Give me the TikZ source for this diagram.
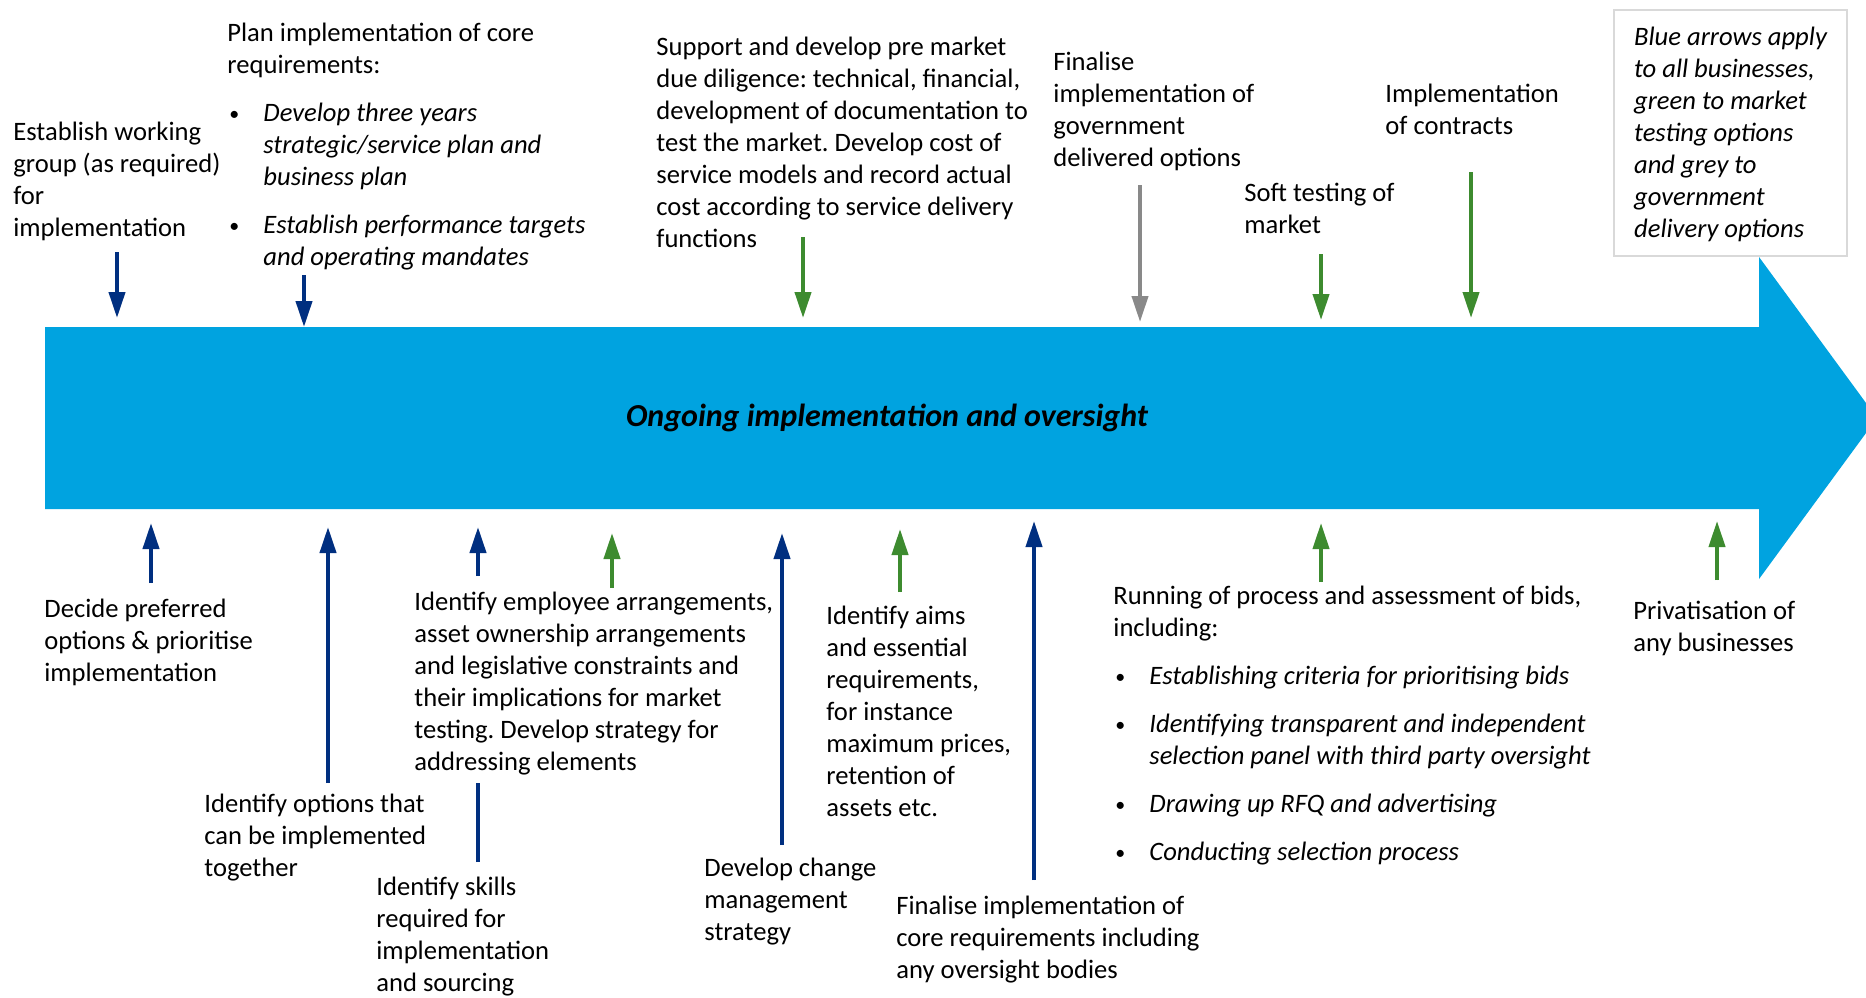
\documentclass[tikz,border=0pt]{standalone}
\usepackage{fontspec}
\usepackage{graphicx}
\setmainfont{Carlito}
\usetikzlibrary{arrows.meta}
\definecolor{barblue}{HTML}{00A3E0}
\definecolor{navy}{HTML}{002F80}
\definecolor{leaf}{HTML}{3D8B2F}
\definecolor{stone}{HTML}{898989}
\definecolor{frame}{HTML}{D9D9D9}
\newcommand{\lstrut}{\rule{0pt}{11pt}}
\newcommand{\bitem}[1]{\makebox[18pt][l]{\hspace{1pt}\raisebox{0.7pt}{\scalebox{0.75}{•}}}\textit{#1}}
\newcommand{\bcont}[1]{\hspace{18pt}\textit{#1}}
\frenchspacing
\begin{document}
\begin{tikzpicture}[x=0.5pt,y=-0.5pt,
  txt/.style={align=left, anchor=north west, inner sep=0pt, font=\fontsize{13.3}{16}\selectfont},
  conn/.style={line width=2pt, -{Triangle[length=13pt,width=8pt]}},
  bluec/.style={conn, draw=navy, fill=navy},
  greenc/.style={conn, draw=leaf, fill=leaf},
  greyc/.style={conn, draw=stone, fill=stone},
  plainblue/.style={line width=2pt, draw=navy}]
\useasboundingbox (0,0) rectangle (1866,997);
\fill[white] (0,0) rectangle (1866,997);

% main arrow
\fill[barblue] (45,327) -- (1759,327) -- (1759,257) -- (1877,418) -- (1759,579) -- (1759,509) -- (45,509) -- cycle;
\node[font=\fontsize{16}{20}\selectfont\bfseries\itshape, anchor=base, inner sep=0pt] (bartxt) at (887,426) {Ongoing implementation and oversight};

% top texts
\node[txt] (est) at (13,118) {\lstrut Establish working\\group (as required)\\for\\implementation};
\node[txt] (plan) at (227,19) {\lstrut Plan implementation of core\\requirements:\\[8pt]
  \bitem{Develop three years}\\\bcont{strategic/service plan and}\\\bcont{business plan}\\[8pt]
  \bitem{Establish performance targets}\\\bcont{and operating mandates}};
\node[txt] (supp) at (656,33) {\lstrut Support and develop pre market\\due diligence: technical, financial,\\development of documentation to\\test the market. Develop cost of\\service models and record actual\\cost according to service delivery\\functions};
\node[txt] (fingov) at (1053,48) {\lstrut Finalise\\implementation of\\government\\delivered options};
\node[txt] (soft) at (1244,179) {\lstrut Soft testing of\\market};
\node[txt] (impl) at (1385,80) {\lstrut Implementation\\of contracts};
\node[draw=frame, line width=1pt, align=left, font=\fontsize{13.3}{16}\selectfont\itshape, minimum width=116.5pt, minimum height=123pt, inner sep=0pt, anchor=north west] (legend) at (1613,9)
  {\lstrut Blue arrows apply\\to all businesses,\\green to market\\testing options\\and grey to\\government\\delivery options};

% bottom texts
\node[txt] (decide) at (44,595) {\lstrut Decide preferred\\options \& prioritise\\implementation};
\node[txt] (opts) at (204,790) {\lstrut Identify options that\\can be implemented\\together};
\node[txt] (emp) at (414,588) {\lstrut Identify employee arrangements,\\asset ownership arrangements\\and legislative constraints and\\their implications for market\\testing. Develop strategy for\\addressing elements};
\node[txt] (skills) at (376,873) {\lstrut Identify skills\\required for\\implementation\\and sourcing};
\node[txt] (change) at (704,854) {\lstrut Develop change\\management\\strategy};
\node[txt] (aims) at (826,602) {\lstrut Identify aims\\and essential\\requirements,\\for instance\\maximum prices,\\retention of\\assets etc.};
\node[txt] (fincore) at (896,892) {\lstrut Finalise implementation of\\core requirements including\\any oversight bodies};
\node[txt] (run) at (1113,582) {\lstrut Running of process and assessment of bids,\\including:\\[8pt]
  \bitem{Establishing criteria for prioritising bids}\\[8pt]
  \bitem{Identifying transparent and independent}\\\bcont{selection panel with third party oversight}\\[8pt]
  \bitem{Drawing up RFQ and advertising}\\[8pt]
  \bitem{Conducting selection process}};
\node[txt] (priv) at (1633,597) {\lstrut Privatisation of\\any businesses};

% connector end points
\coordinate (a1t) at (117,252); \coordinate (a1h) at (117,318);
\coordinate (a2t) at (304,275); \coordinate (a2h) at (304,327);
\coordinate (a3t) at (803,237); \coordinate (a3h) at (803,318);
\coordinate (a4t) at (1140,185); \coordinate (a4h) at (1140,322);
\coordinate (a5t) at (1321,254); \coordinate (a5h) at (1321,320);
\coordinate (a6t) at (1471,172); \coordinate (a6h) at (1471,318);
\coordinate (b1t) at (151,583); \coordinate (b1h) at (151,523);
\coordinate (b2t) at (328,783); \coordinate (b2h) at (328,527);
\coordinate (b3t) at (478,576); \coordinate (b3h) at (478,527);
\coordinate (b3a) at (478,862); \coordinate (b3b) at (478,783);
\coordinate (b4t) at (612,588); \coordinate (b4h) at (612,533);
\coordinate (b5t) at (782,845); \coordinate (b5h) at (782,533);
\coordinate (b6t) at (900,592); \coordinate (b6h) at (900,529);
\coordinate (b7t) at (1034,880); \coordinate (b7h) at (1034,521);
\coordinate (b8t) at (1321,582); \coordinate (b8h) at (1321,523);
\coordinate (b9t) at (1717,580); \coordinate (b9h) at (1717,521);

% connectors above the bar
\draw[bluec] (a1t) -- (a1h);
\draw[bluec] (a2t) -- (a2h);
\draw[greenc] (a3t) -- (a3h);
\draw[greyc] (a4t) -- (a4h);
\draw[greenc] (a5t) -- (a5h);
\draw[greenc] (a6t) -- (a6h);
% connectors below the bar
\draw[bluec] (b1t) -- (b1h);
\draw[bluec] (b2t) -- (b2h);
\draw[bluec] (b3t) -- (b3h);
\draw[plainblue] (b3a) -- (b3b);
\draw[greenc] (b4t) -- (b4h);
\draw[bluec] (b5t) -- (b5h);
\draw[greenc] (b6t) -- (b6h);
\draw[bluec] (b7t) -- (b7h);
\draw[greenc] (b8t) -- (b8h);
\draw[greenc] (b9t) -- (b9h);
\end{tikzpicture}
\end{document}
